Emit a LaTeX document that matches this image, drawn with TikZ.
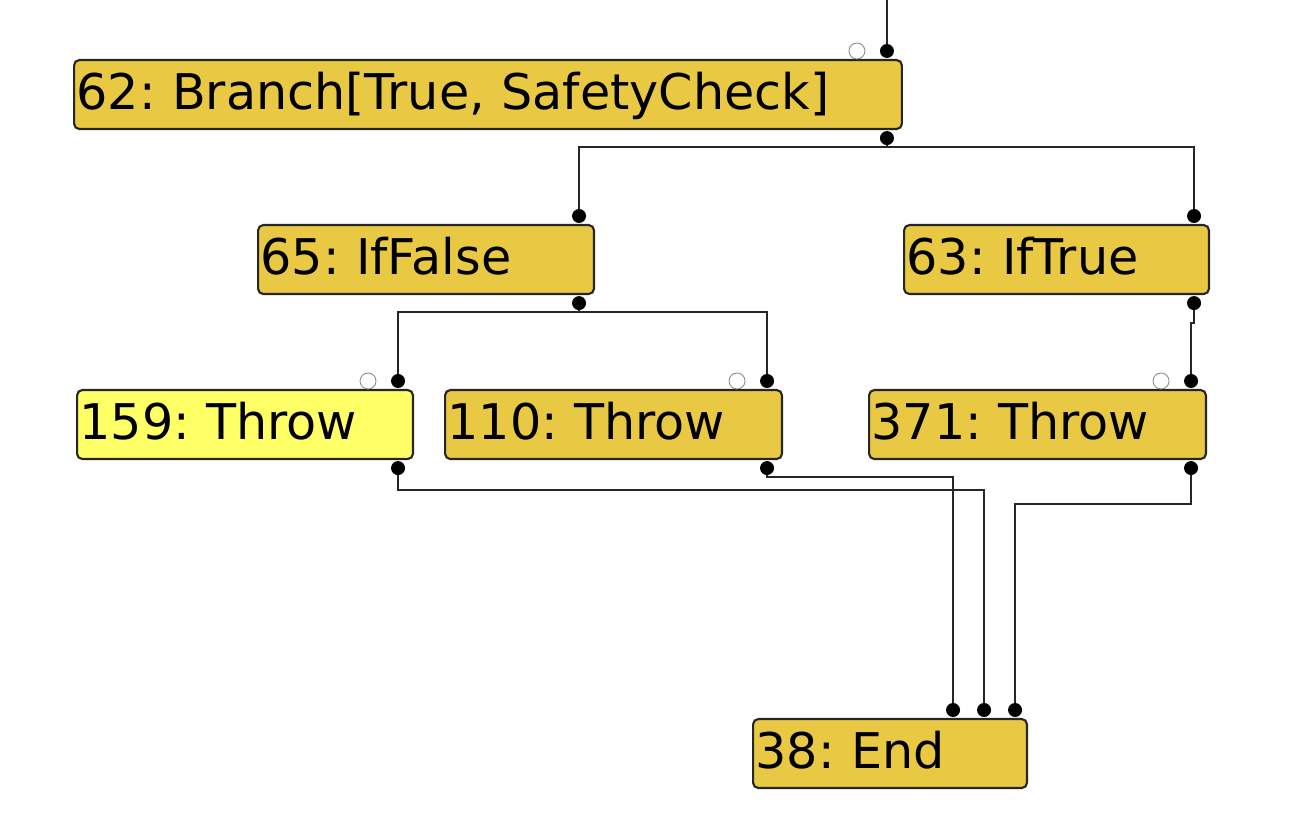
\documentclass[tikz,border=0pt]{standalone}
\usepackage{fontspec}
\setmainfont{DejaVu Sans}
\usetikzlibrary{calc}
\frenchspacing
\definecolor{nodegold}{RGB}{233,201,67}
\definecolor{nodeyellow}{RGB}{255,255,102}
\tikzset{
  irnode/.style={draw=black!85, line width=1.2pt, rounded corners=3pt, fill=nodegold,
    anchor=north west, inner xsep=0.05cm, inner ysep=0cm, text width=#1, align=left,
    text height=0.98cm, text depth=0.40cm, font=\fontsize{28pt}{33pt}\selectfont},
  pinring/.style={draw=black!45, fill=white, line width=0.5pt},
  wire/.style={draw=black!85, line width=1.2pt}
}
\begin{document}
\begin{tikzpicture}[x=0.02cm, y=-0.02cm]
  \useasboundingbox (0,0) rectangle (1316,830);
  % nodes
  \node[irnode=16.46cm] (n62) at (73,59) {62: Branch[True, SafetyCheck]};
  \node[irnode=6.62cm] (n65) at (257,224) {65: IfFalse};
  \node[irnode=6.00cm] (n63) at (903,224) {63: IfTrue};
  \node[irnode=6.62cm, fill=nodeyellow] (n159) at (76,389) {159: Throw};
  \node[irnode=6.64cm] (n110) at (444,389) {110: Throw};
  \node[irnode=6.64cm] (n371) at (868,389) {371: Throw};
  \node[irnode=5.38cm] (n38) at (752,718) {38: End};
  % pins
  \foreach \n in {62,65,63,159,110,371} {
    \coordinate (p\n in) at ($(n\n.north east)+(-16,-8)$);
    \coordinate (p\n out) at ($(n\n.south east)+(-16,8)$);
  }
  \coordinate (e1) at ($(n38.north east)+(-75,-8)$);
  \coordinate (e2) at ($(n38.north east)+(-44,-8)$);
  \coordinate (e3) at ($(n38.north east)+(-13,-8)$);
  \coordinate (origin) at (0,0);
  \coordinate (top) at (p62in |- origin);
  % wires
  \draw[wire] (top) -- (p62in);
  \draw[wire] (p62out) -- ++(0,9) -| (p65in);
  \draw[wire] (p62out) -- ++(0,9) -| (p63in);
  \draw[wire] (p65out) -- ++(0,9) -| (p159in);
  \draw[wire] (p65out) -- ++(0,9) -| (p110in);
  \draw[wire] (p63out) -- ++(0,20) -| (p371in);
  \draw[wire] (p110out) -- ++(0,9) -| (e1);
  \draw[wire] (p159out) -- ++(0,22) -| (e2);
  \draw[wire] (p371out) -- ++(0,36) -| (e3);
  % dots
  \foreach \p in {p62in,p62out,p65in,p65out,p63in,p63out,p159in,p159out,p110in,p110out,p371in,p371out,e1,e2,e3}
    \fill (\p) circle (0.14cm);
  \foreach \p in {p62in,p159in,p110in,p371in}
    \draw[pinring] ($(\p)+(-30,0)$) circle (0.16cm);
\end{tikzpicture}
\end{document}
